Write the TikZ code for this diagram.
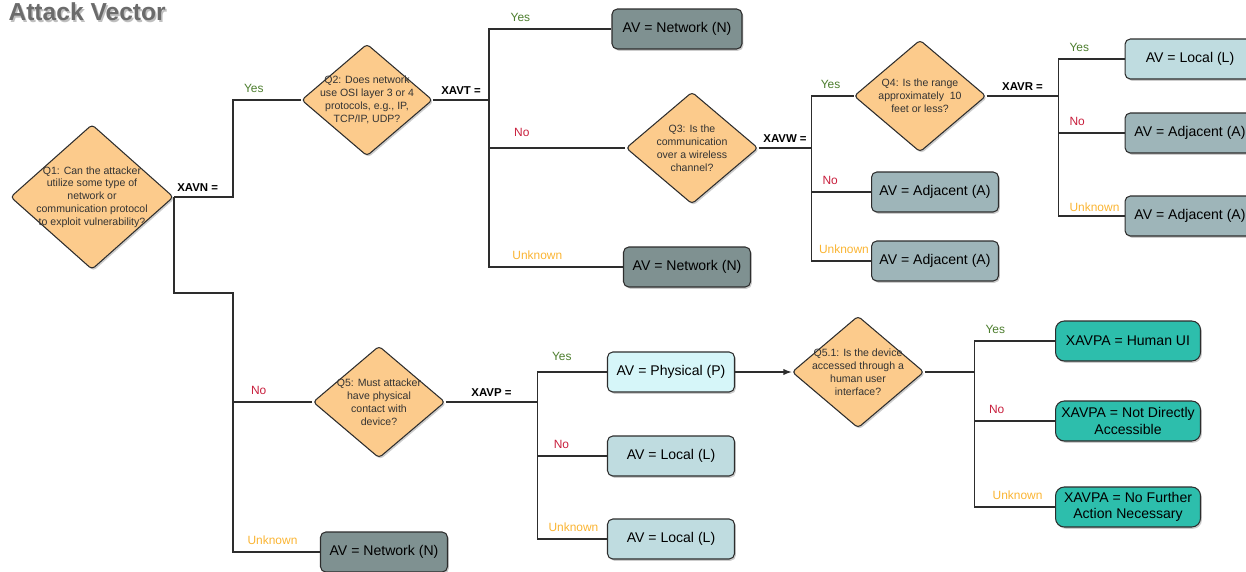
\documentclass[tikz,border=0pt]{standalone}
\usepackage{fontspec}
\setmainfont{Liberation Sans}
\usetikzlibrary{arrows,shapes.geometric,shadows}

\definecolor{qfill}{RGB}{252,203,140}
\definecolor{netfill}{RGB}{127,145,145}
\definecolor{adjfill}{RGB}{158,181,185}
\definecolor{locfill}{RGB}{191,220,224}
\definecolor{physfill}{RGB}{214,246,249}
\definecolor{uifill}{RGB}{45,190,172}
\definecolor{yesc}{RGB}{76,125,45}
\definecolor{noc}{RGB}{200,30,60}
\definecolor{unkc}{RGB}{250,180,50}
\definecolor{linec}{RGB}{45,45,45}

\begin{document}
\begin{tikzpicture}[x=0.02cm, y=-0.02cm, >=latex, line width=0.6pt, draw=linec,
    question/.style={diamond, draw=linec, fill=qfill, rounded corners=2pt, inner sep=0pt,
        minimum width=2.64cm, minimum height=2.24cm,
        drop shadow={shadow xshift=0.8pt, shadow yshift=-1pt, opacity=0.4}},
    qtext/.style={align=center, inner sep=0pt, text=black!80, font=\fontsize{6}{7.3}\selectfont},
    result/.style={rectangle, draw=linec, rounded corners=3pt, inner sep=1pt, align=center,
        minimum width=2.54cm, minimum height=0.8cm, font=\fontsize{8}{9.2}\selectfont,
        drop shadow={shadow xshift=0.8pt, shadow yshift=-1pt, opacity=0.4}},
    net/.style={result, fill=netfill},
    adj/.style={result, fill=adjfill},
    loc/.style={result, fill=locfill},
    phys/.style={result, fill=physfill},
    ui/.style={result, fill=uifill, minimum width=2.9cm, rounded corners=5pt},
    var/.style={midway, above, inner sep=2pt, yshift=1pt, font=\bfseries\fontsize{6.5}{7}\selectfont},
    br/.style={pos=0.5, anchor=south west, inner sep=2pt, xshift=4pt, yshift=2pt, font=\fontsize{6.8}{7}\selectfont},
    lyes/.style={br, text=yesc},
    lno/.style={br, text=noc},
    lunk/.style={br, text=unkc},
    title/.style={anchor=west, inner sep=0pt, font=\bfseries\fontsize{14}{16}\selectfont}]

    \useasboundingbox (0,0) rectangle (1246,571);
    \clip (0,0) rectangle (1246,571);

    % title
    \node[title, text=black!25] (ttls) at (9.5,14) {Attack Vector};
    \node[title, text=black!58] (ttl) at (8,12) {Attack Vector};

    % questions
    \node[question, minimum width=3.26cm, minimum height=2.9cm] (q1) at (92,197)
        [label={[qtext]center:{Q1: Can the attacker\\utilize some type of\\network or\\communication protocol\\to exploit vulnerability?}}] {};
    \node[question, minimum width=2.62cm] (q2) at (367,100)
        [label={[qtext]center:{Q2: Does network\\use OSI layer 3 or 4\\protocols, e.g., IP,\\TCP/IP, UDP?}}] {};
    \node[question] (q3) at (692,148)
        [label={[qtext]center:{Q3: Is the\\communication\\over a wireless\\channel?}}] {};
    \node[question] (q4) at (920,96)
        [label={[qtext]center:{Q4: Is the range\\approximately\ \ 10\\feet or less?}}] {};
    \node[question] (q5) at (379,402)
        [label={[qtext]center:{Q5: Must attacker\\have physical\\contact with\\device?}}] {};
    \node[question] (q51) at (858,372)
        [label={[qtext]center:{Q5.1: Is the device\\accessed through a\\human user\\interface?}}] {};

    % results
    \node[net, minimum width=2.6cm] (n1) at (677,29) {AV = Network (N)};
    \node[net] (n2) at (687,267) {AV = Network (N)};
    \node[net] (n3) at (384,552) {AV = Network (N)};
    \node[adj] (a1) at (935,192) {AV = Adjacent (A)};
    \node[adj] (a2) at (935,261) {AV = Adjacent (A)};
    \node[loc, minimum width=2.6cm] (l1) at (1190,59) {AV = Local (L)};
    \node[adj, minimum width=2.6cm] (a3) at (1190,133) {AV = Adjacent (A)};
    \node[adj, minimum width=2.6cm] (a4) at (1190,216) {AV = Adjacent (A)};
    \node[phys] (p1) at (671,372) {AV = Physical (P)};
    \node[loc] (l2) at (671,456) {AV = Local (L)};
    \node[loc] (l3) at (671,539) {AV = Local (L)};
    \node[ui] (u1) at (1128,341) {XAVPA = Human UI};
    \node[ui] (u2) at (1128,421) {XAVPA = Not Directly\\Accessible};
    \node[ui] (u3) at (1128,507) {XAVPA = No Further\\Action Necessary};

    % Q1
    \draw (q1.east) -- node[var, pos=0.4] {XAVN =} ++(59,0) |- node[lyes] {Yes} (q2.west);
    \draw (q1.east) |- ++(59,96) coordinate (s1) |- node[lno, xshift=4pt] {No} (q5.west);
    \draw (s1) |- node[lunk, xshift=2pt] {Unknown} (n3.west);

    % Q2
    \draw (q2.east) -- node[var] {XAVT =} ++(56,0) coordinate (s2);
    \draw (s2) |- node[lyes, xshift=6pt] {Yes} (n1.west);
    \draw (s2) |- node[lno, xshift=8pt, yshift=2pt] {No} (q3.west);
    \draw (s2) |- node[lunk, xshift=7pt] {Unknown} (n2.west);

    % Q3
    \draw (q3.east) -- node[var] {XAVW =} ++(53,0) coordinate (s3);
    \draw (s3) |- node[lyes, xshift=-1pt] {Yes} (q4.west);
    \draw (s3) |- node[lno, xshift=0pt] {No} (a1.west);
    \draw (s3) |- node[lunk, xshift=-2pt] {Unknown} (a2.west);

    % Q4
    \draw (q4.east) -- node[var] {XAVR =} ++(72,0) coordinate (s4);
    \draw (s4) |- node[lyes] {Yes} (l1.west);
    \draw (s4) |- node[lno] {No} (a3.west);
    \draw (s4) |- node[lunk, yshift=-2pt] {Unknown} (a4.west);

    % Q5
    \draw (q5.east) -- node[var] {XAVP =} ++(92,0) coordinate (s5);
    \draw (s5) |- node[lyes, xshift=2pt, yshift=2pt] {Yes} (p1.west);
    \draw (s5) |- node[lno, xshift=3pt] {No} (l2.west);
    \draw (s5) |- node[lunk] {Unknown} (l3.west);

    % Q5.1
    \draw[->] (p1) -- (q51);
    \draw (q51.east) -- ++(50,0) coordinate (s6);
    \draw (s6) |- node[lyes] {Yes} (u1.west);
    \draw (s6) |- node[lno, xshift=2pt] {No} (u2.west);
    \draw (s6) |- node[lunk, xshift=4pt] {Unknown} (u3.west);
\end{tikzpicture}
\end{document}
